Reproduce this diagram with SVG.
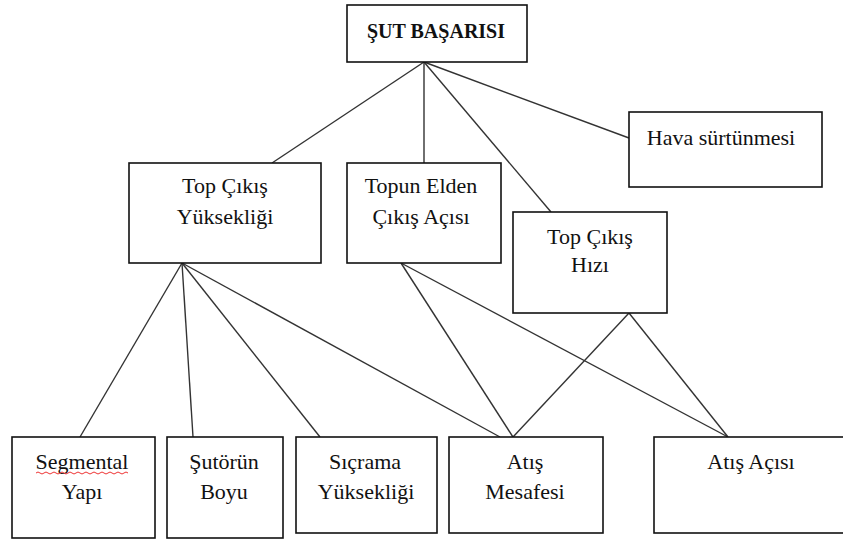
<svg xmlns="http://www.w3.org/2000/svg" width="843" height="543" viewBox="0 0 843 543">
<style>
.box{fill:#fff;stroke:#111;stroke-width:1.6}
.t{font-family:'Liberation Serif',serif;font-size:22px;fill:#111;text-anchor:middle}
.b{font-weight:bold;font-size:20px}
.c{stroke:#333;stroke-width:1.4;fill:none}
</style>
<rect width="843" height="543" fill="#fff"/>
<g id="connectors">
<line class="c" x1="424" y1="62" x2="272" y2="163"/>
<line class="c" x1="424" y1="62" x2="424" y2="163"/>
<line class="c" x1="424" y1="62" x2="551" y2="212"/>
<line class="c" x1="424" y1="62" x2="629" y2="138"/>
<line class="c" x1="182" y1="263" x2="80" y2="437"/>
<line class="c" x1="182" y1="263" x2="193" y2="437"/>
<line class="c" x1="182" y1="263" x2="320" y2="437"/>
<line class="c" x1="182" y1="263" x2="500" y2="437"/>
<line class="c" x1="401" y1="263" x2="513" y2="437"/>
<line class="c" x1="401" y1="263" x2="728" y2="437"/>
<line class="c" x1="629" y1="313" x2="513" y2="437"/>
<line class="c" x1="629" y1="313" x2="728" y2="437"/>
</g>
<g id="sut">
<rect class="box" x="347" y="5" width="180" height="57"/>
<text class="t b" x="436" y="38">ŞUT BAŞARISI</text>
</g>
<g id="yukseklik">
<rect class="box" x="129" y="163" width="192" height="100"/>
<text class="t" x="225" y="193">Top Çıkış</text>
<text class="t" x="225" y="224">Yüksekliği</text>
</g>
<g id="aci">
<rect class="box" x="347" y="163" width="154" height="100"/>
<text class="t" x="421" y="193">Topun Elden</text>
<text class="t" x="421" y="224">Çıkış Açısı</text>
</g>
<g id="hava">
<rect class="box" x="629" y="112" width="193" height="75"/>
<text class="t" x="721" y="145">Hava sürtünmesi</text>
</g>
<g id="hiz">
<rect class="box" x="513" y="212" width="154" height="101"/>
<text class="t" x="590" y="244">Top Çıkış</text>
<text class="t" x="590" y="272">Hızı</text>
</g>
<g id="segmental">
<rect class="box" x="12" y="437" width="143" height="101"/>
<text class="t" x="82" y="469">Segmental</text>
<path d="M36 473 q2 -2 4 0 t4 0 t4 0 t4 0 t4 0 t4 0 t4 0 t4 0 t4 0 t4 0 t4 0 t4 0 t4 0 t4 0 t4 0 t4 0 t4 0 t4 0 t4 0 t4 0 t4 0 t4 0 t4 0" fill="none" stroke="#e33" stroke-width="1"/>
<text class="t" x="82" y="499">Yapı</text>
</g>
<g id="boy">
<rect class="box" x="167" y="437" width="116" height="101"/>
<text class="t" x="224" y="469">Şutörün</text>
<text class="t" x="224" y="499">Boyu</text>
</g>
<g id="sicrama">
<rect class="box" x="296" y="437" width="141" height="96"/>
<text class="t" x="365" y="469">Sıçrama</text>
<text class="t" x="366" y="499">Yüksekliği</text>
</g>
<g id="mesafe">
<rect class="box" x="449" y="437" width="154" height="96"/>
<text class="t" x="525" y="469">Atış</text>
<text class="t" x="525" y="499">Mesafesi</text>
</g>
<g id="atisaci">
<rect class="box" x="654" y="437" width="200" height="96"/>
<text class="t" x="751" y="469">Atış Açısı</text>
</g>
</svg>
